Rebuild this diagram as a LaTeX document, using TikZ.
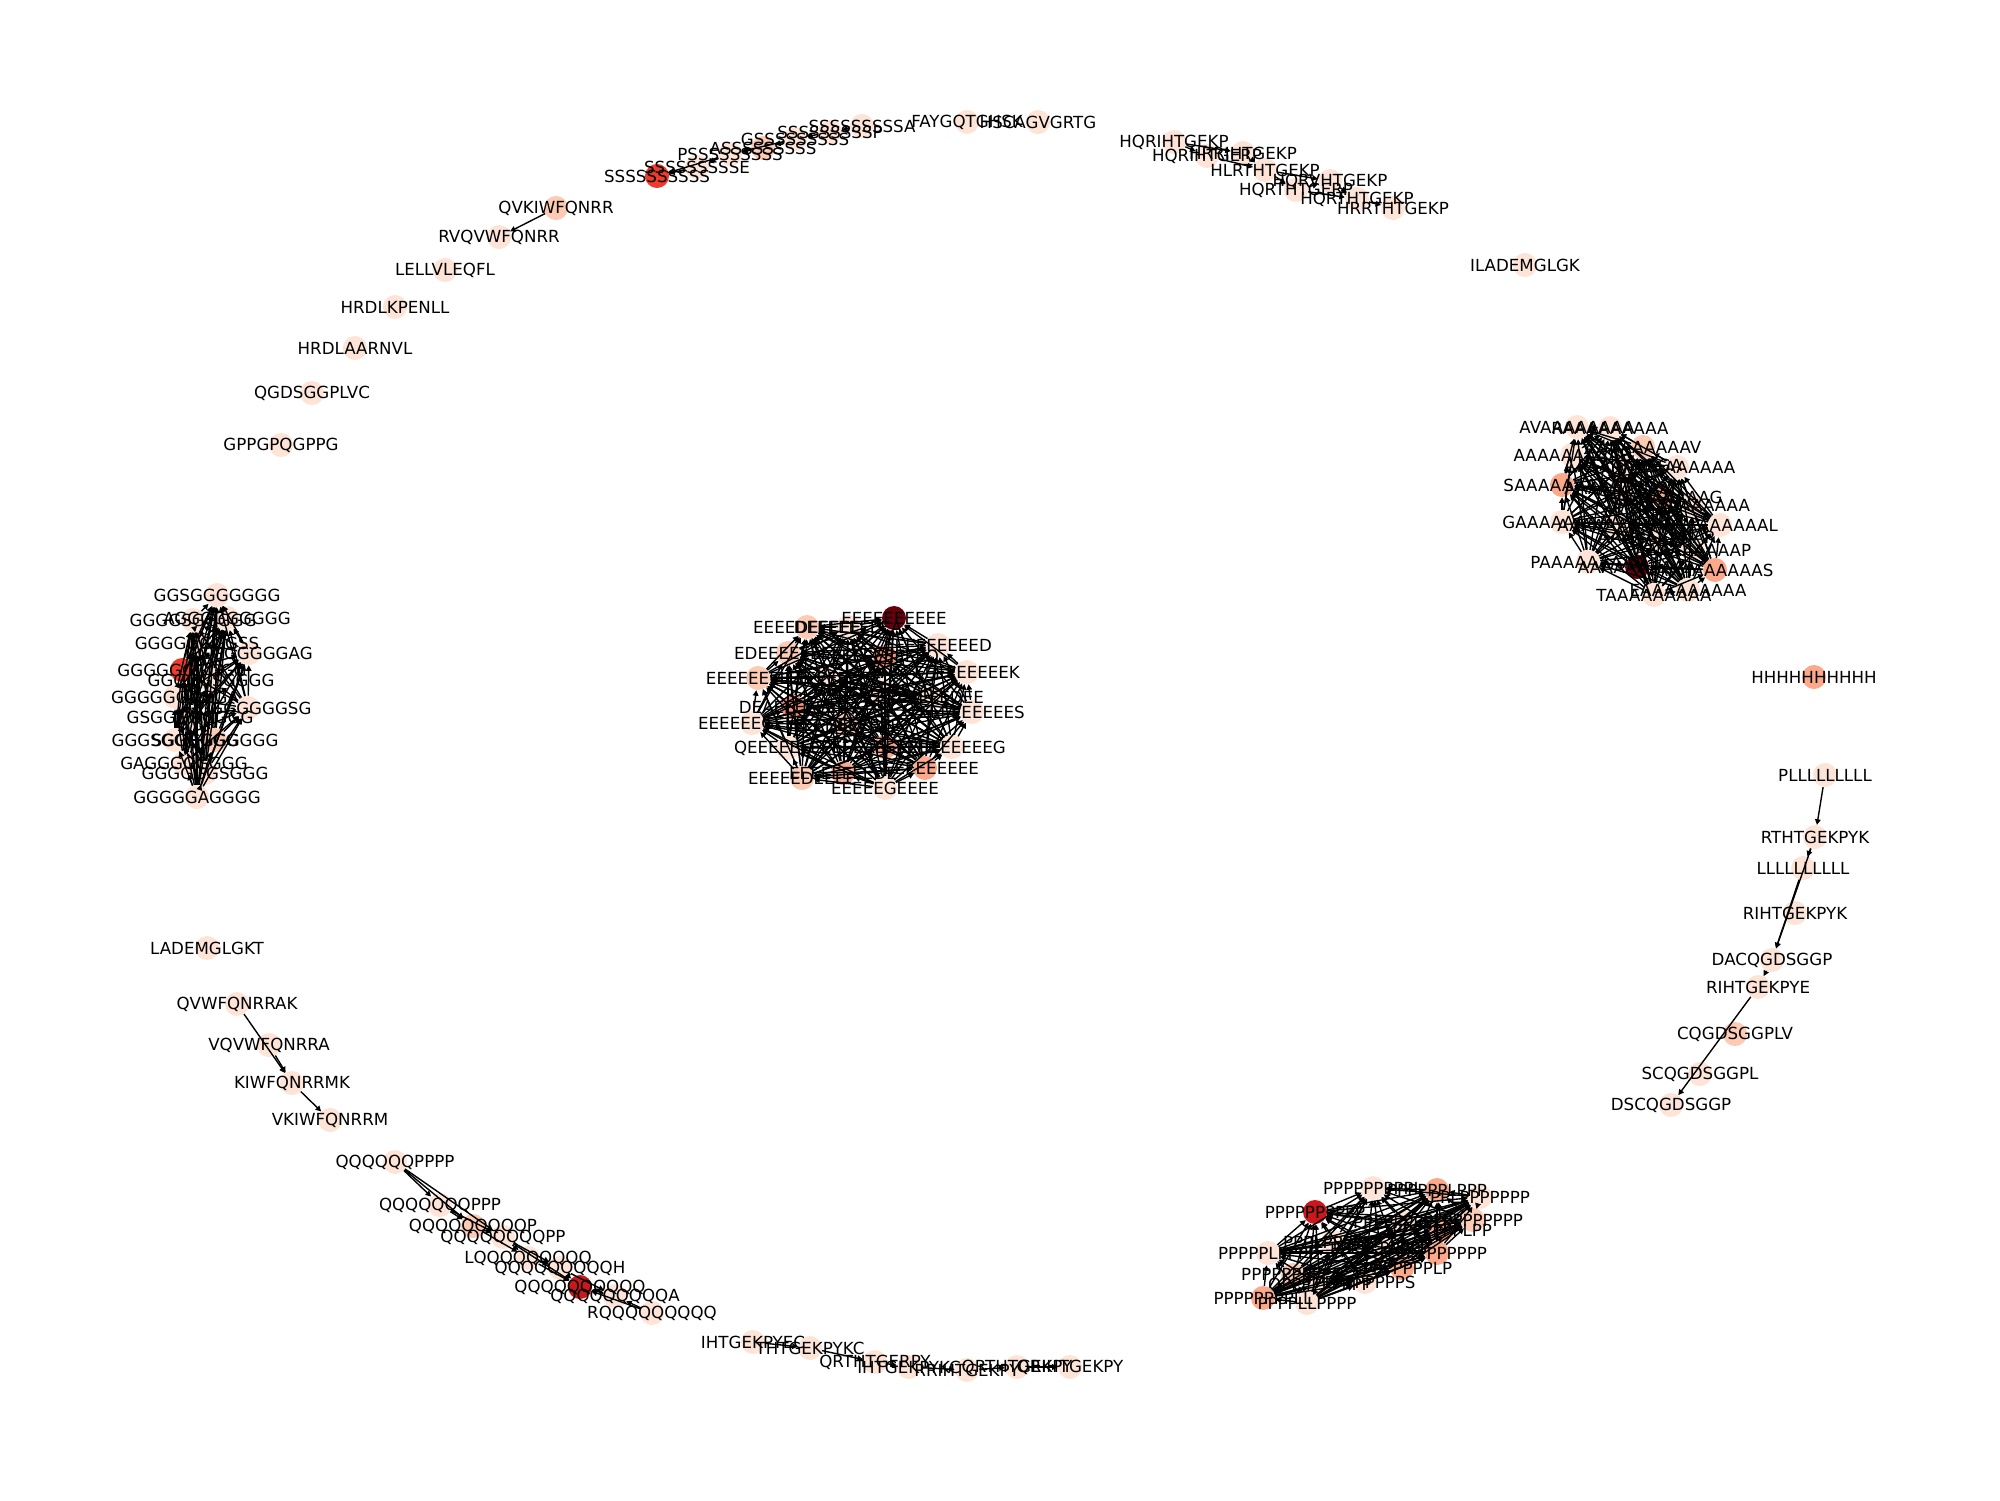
\documentclass[tikz,border=0pt]{standalone}
\usepackage{fontspec}
\setmainfont{DejaVu Sans}
\usetikzlibrary{arrows.meta}
\definecolor{cL}{HTML}{FEE4D7}
\definecolor{cM}{HTML}{FDCAB4}
\definecolor{cS}{HTML}{FCA88B}
\definecolor{cT}{HTML}{FC8E6E}
\definecolor{cR}{HTML}{EF3B2C}
\definecolor{cRR}{HTML}{CB181D}
\definecolor{cD}{HTML}{67000D}
\tikzset{
  vtx/.style={circle, inner sep=0pt, minimum size=17.3pt, draw=none},
  edg/.style={line width=1pt, black, -{Triangle[length=4pt,width=4pt]}},
  lbl/.style={inner sep=0pt, font=\fontsize{12pt}{14pt}\selectfont, text=black},
}
\newcommand\vx[4]{\node[vtx, fill=#4] (#1) at (#2,#3) {};}
\newcommand\vl[2]{\node[lbl] (#1-t) at (#1.center) {#2};}
\newcommand\ed[2]{\draw[edg] (#1) -- (#2);}
\newcommand\cliq[2]{%
  \pgfmathtruncatemacro\cliqm{#2-1}%
  \foreach \i in {1,...,\cliqm}{%
    \pgfmathtruncatemacro\cliqs{\i+1}%
    \foreach \j in {\cliqs,...,#2}{\draw[edg] (#1\j) -- (#1\i);}}}
\begin{document}
\begin{tikzpicture}[x=0.72pt,y=-0.72pt]
\fill[white] (0,0) rectangle (2000,1500);
\path[use as bounding box] (0,0) rectangle (2000,1500);
% ---------- vertices ----------
% S chain
\vx{S1}{657}{176}{cR}
\vx{S2}{697}{167}{cL}
\vx{S3}{730}{154}{cL}
\vx{S4}{763}{148}{cM}
\vx{S5}{795}{139}{cL}
\vx{S6}{830}{132}{cL}
\vx{S7}{862}{126}{cL}
\vx{F1}{967}{122}{cL}
\vx{F2}{1038}{122}{cL}
% HQ chain
\vx{H1}{1174}{142}{cL}
\vx{H2}{1207}{156}{cL}
\vx{H3}{1243}{153}{cL}
\vx{H4}{1265}{170}{cL}
\vx{H5}{1296}{190}{cL}
\vx{H6}{1330}{181}{cL}
\vx{H7}{1357}{199}{cL}
\vx{H8}{1393}{208}{cL}
\vx{IL}{1525}{265}{cL}
% left list
\vx{K1}{556}{208}{cM}
\vx{K2}{499}{237}{cL}
\vx{K3}{445}{270}{cL}
\vx{K4}{395}{307}{cL}
\vx{K5}{355}{348}{cL}
\vx{K6}{312}{393}{cL}
\vx{K7}{281}{445}{cL}
% G cluster
\vx{G1}{217}{595}{cL}
\vx{G2}{227}{618}{cL}
\vx{G3}{193}{620}{cL}
\vx{G4}{197}{643}{cL}
\vx{G5}{249}{653}{cL}
\vx{G6}{182}{670}{cR}
\vx{G7}{211}{680}{cL}
\vx{G8}{175}{697}{cL}
\vx{G9}{190}{717}{cL}
\vx{G10}{248}{708}{cL}
\vx{G11}{175}{740}{cL}
\vx{G12}{215}{740}{cM}
\vx{G13}{184}{763}{cL}
\vx{G14}{205}{773}{cL}
\vx{G15}{197}{797}{cL}
% E cluster
\vx{E1}{894}{618}{cD}
\vx{E2}{807}{627}{cM}
\vx{E3}{848}{627}{cL}
\vx{E4}{788}{653}{cM}
\vx{E5}{938}{645}{cL}
\vx{E6}{885}{657}{cT}
\vx{E7}{967}{672}{cL}
\vx{E8}{758}{678}{cM}
\vx{E9}{828}{678}{cL}
\vx{E10}{880}{690}{cL}
\vx{E11}{930}{697}{cL}
\vx{E12}{793}{707}{cT}
\vx{E13}{972}{712}{cL}
\vx{E14}{752}{723}{cL}
\vx{E15}{847}{725}{cM}
\vx{E16}{788}{748}{cL}
\vx{E17}{885}{747}{cS}
\vx{E18}{952}{747}{cL}
\vx{E19}{925}{768}{cS}
\vx{E20}{802}{778}{cM}
\vx{E21}{843}{773}{cS}
\vx{E22}{885}{788}{cL}
% A cluster
\vx{A1}{1577}{427}{cL}
\vx{A2}{1610}{428}{cL}
\vx{A3}{1643}{447}{cM}
\vx{A4}{1572}{455}{cL}
\vx{A5}{1623}{465}{cL}
\vx{A6}{1677}{467}{cL}
\vx{A7}{1562}{485}{cS}
\vx{A8}{1623}{488}{cL}
\vx{A9}{1663}{497}{cS}
\vx{A10}{1692}{505}{cL}
\vx{A11}{1562}{522}{cL}
\vx{A12}{1617}{525}{cL}
\vx{A13}{1720}{525}{cL}
\vx{A14}{1657}{537}{cL}
\vx{A15}{1693}{550}{cL}
\vx{A16}{1588}{562}{cL}
\vx{A17}{1637}{567}{cD}
\vx{A18}{1715}{570}{cS}
\vx{A19}{1688}{590}{cL}
\vx{A20}{1654}{595}{cL}
\vx{HH}{1814}{677}{cS}
% right chain
\vx{R1}{1825}{775}{cL}
\vx{R2}{1815}{837}{cL}
\vx{R3}{1803}{868}{cL}
\vx{R4}{1795}{913}{cL}
\vx{R5}{1772}{960}{cL}
\vx{R6}{1758}{987}{cL}
\vx{R7}{1735}{1034}{cM}
\vx{R8}{1700}{1074}{cL}
\vx{R9}{1671}{1105}{cL}
% bottom-left
\vx{LD}{207}{948}{cL}
\vx{L1}{237}{1004}{cL}
\vx{L2}{269}{1045}{cL}
\vx{L3}{292}{1083}{cL}
\vx{L4}{330}{1120}{cL}
% Q chain
\vx{Q1}{395}{1162}{cL}
\vx{Q2}{440}{1205}{cL}
\vx{Q3}{473}{1226}{cM}
\vx{Q4}{503}{1237}{cL}
\vx{Q5}{528}{1258}{cL}
\vx{Q6}{560}{1268}{cL}
\vx{Q7}{580}{1287}{cRR}
\vx{Q8}{615}{1296}{cL}
\vx{Q9}{652}{1313}{cL}
% bottom chain
\vx{B1}{753}{1342}{cL}
\vx{B2}{810}{1348}{cL}
\vx{B3}{875}{1362}{cL}
\vx{B4}{909}{1367}{cL}
\vx{B5}{967}{1370}{cL}
\vx{B6}{1017}{1367}{cL}
\vx{B7}{1070}{1367}{cL}
% P cluster
\vx{P1}{1373}{1188}{cL}
\vx{P2}{1437}{1190}{cS}
\vx{P3}{1480}{1197}{cL}
\vx{P4}{1315}{1212}{cRR}
\vx{P5}{1403}{1222}{cL}
\vx{P6}{1473}{1220}{cM}
\vx{P7}{1442}{1230}{cS}
\vx{P8}{1333}{1242}{cL}
\vx{P9}{1380}{1248}{cL}
\vx{P10}{1268}{1253}{cL}
\vx{P11}{1437}{1253}{cS}
\vx{P12}{1402}{1268}{cS}
\vx{P13}{1293}{1275}{cM}
\vx{P14}{1365}{1282}{cL}
\vx{P15}{1320}{1285}{cL}
\vx{P16}{1263}{1298}{cS}
\vx{P17}{1307}{1303}{cL}
% ---------- edges ----------
\ed{S2}{S1}\ed{S3}{S2}\ed{S4}{S3}\ed{S5}{S4}\ed{S6}{S5}\ed{S7}{S6}\ed{S3}{S1}\ed{S5}{S3}
\ed{H1}{H2}\ed{H1}{H3}\ed{H2}{H4}\ed{H3}{H4}\ed{H4}{H5}\ed{H4}{H6}\ed{H5}{H6}\ed{H6}{H7}\ed{H5}{H7}\ed{H7}{H8}
\ed{K1}{K2}
\cliq{G}{15}
\cliq{E}{22}
\cliq{A}{20}
\cliq{P}{17}
\ed{R1}{R2}\ed{R2}{R3}\ed{R2}{R5}\ed{R3}{R5}\ed{R5}{R6}\ed{R6}{R9}
\ed{L1}{L3}\ed{L2}{L3}\ed{L3}{L4}
\ed{Q1}{Q2}\ed{Q1}{Q3}\ed{Q1}{Q4}\ed{Q2}{Q3}\ed{Q2}{Q4}\ed{Q3}{Q4}\ed{Q3}{Q5}\ed{Q4}{Q5}\ed{Q4}{Q6}
\ed{Q5}{Q6}\ed{Q5}{Q7}\ed{Q6}{Q7}\ed{Q4}{Q7}\ed{Q8}{Q7}\ed{Q9}{Q7}\ed{Q9}{Q8}\ed{Q6}{Q8}
\ed{B1}{B2}\ed{B2}{B3}\ed{B3}{B4}\ed{B4}{B5}\ed{B5}{B6}\ed{B6}{B7}
% ---------- labels ----------
\vl{S1}{SSSSSSSSSS}\vl{S2}{SSSSSSSSSE}\vl{S3}{PSSSSSSSSS}\vl{S4}{ASSSSSSSSS}
\vl{S5}{GSSSSSSSSS}\vl{S6}{SSSSSSSSSP}\vl{S7}{SSSSSSSSSA}
\vl{F1}{FAYGQTGHSK}\vl{F2}{HSCAGVGRTG}
\vl{H1}{HQRIHTGEKP}\vl{H2}{HQRIHTGERP}\vl{H3}{HRRIHTGEKP}\vl{H4}{HLRTHTGEKP}
\vl{H5}{HQRTHTGERP}\vl{H6}{HQRVHTGEKP}\vl{H7}{HQRTHTGEKP}\vl{H8}{HRRTHTGEKP}
\vl{IL}{ILADEMGLGK}
\vl{K1}{QVKIWFQNRR}\vl{K2}{RVQVWFQNRR}\vl{K3}{LELLVLEQFL}\vl{K4}{HRDLKPENLL}
\vl{K5}{HRDLAARNVL}\vl{K6}{QGDSGGPLVC}\vl{K7}{GPPGPQGPPG}
\vl{G1}{GGSGGGGGGG}\vl{G2}{AGGGGGGGGG}\vl{G3}{GGGGSGGGGG}\vl{G4}{GGGGGGGGSS}
\vl{G5}{GGGGGGGGAG}\vl{G6}{GGGGGGGGGG}\vl{G7}{GGGGGSGGGG}\vl{G8}{GGGGGGGGGA}
\vl{G9}{GSGGGGGGGG}\vl{G10}{GGGGGGGGSG}\vl{G11}{GGGSGGGGGG}\vl{G12}{SGGGGGGGGG}
\vl{G13}{GAGGGGGGGG}\vl{G14}{GGGGGGSGGG}\vl{G15}{GGGGGAGGGG}
\vl{E1}{EEEEEEEEEE}\vl{E2}{EEEEDEEEEE}\vl{E3}{DEEEEEEEEA}\vl{E4}{EDEEEEEEEE}
\vl{E5}{EEEEEEEEED}\vl{E6}{EEEEEEEEEQ}\vl{E7}{EEEEEEEEEK}\vl{E8}{EEEEEEELEE}
\vl{E9}{EEEEEEEEGE}\vl{E10}{EEEEEEEEAE}\vl{E11}{EEEEEEEDEE}\vl{E12}{DEAEEEEEEE}
\vl{E13}{EEEEEEEEES}\vl{E14}{EEEEEEGEEE}\vl{E15}{EEEDEEEEEE}\vl{E16}{QEEEEEEEEE}
\vl{E17}{EEEAEEEEEE}\vl{E18}{EEEEEEEEEG}\vl{E19}{GEEEEEEEEE}\vl{E20}{EEEEEDEEEE}
\vl{E21}{EEEEEEEEDE}\vl{E22}{EEEEEGEEEE}
\vl{A1}{AVAAAAAAAA}\vl{A2}{RAAAAAAAAA}\vl{A3}{AAAAAAAAAV}\vl{A4}{AAAAAAAAAE}
\vl{A5}{AAAAAAAAGA}\vl{A6}{VAAAAAAAAA}\vl{A7}{SAAAAAAAAA}\vl{A8}{AAAAAAAAAK}
\vl{A9}{AAAAAAAAAG}\vl{A10}{LAAAAAAAAA}\vl{A11}{GAAAAAAAAA}\vl{A12}{AAAAAAAAAD}
\vl{A13}{AAAAAAAAAL}\vl{A14}{AAAAAAAAAR}\vl{A15}{AAAAAAAAAP}\vl{A16}{PAAAAAAAAA}
\vl{A17}{AAAAAAAAAA}\vl{A18}{AAAAAAAAAS}\vl{A19}{EAAAAAAAAA}\vl{A20}{TAAAAAAAAA}
\vl{HH}{HHHHHHHHHH}
\vl{R1}{PLLLLLLLLL}\vl{R2}{RTHTGEKPYK}\vl{R3}{LLLLLLLLLL}\vl{R4}{RIHTGEKPYK}
\vl{R5}{DACQGDSGGP}\vl{R6}{RIHTGEKPYE}\vl{R7}{CQGDSGGPLV}\vl{R8}{SCQGDSGGPL}
\vl{R9}{DSCQGDSGGP}
\vl{LD}{LADEMGLGKT}
\vl{L1}{QVWFQNRRAK}\vl{L2}{VQVWFQNRRA}\vl{L3}{KIWFQNRRMK}\vl{L4}{VKIWFQNRRM}
\vl{Q1}{QQQQQQPPPP}\vl{Q2}{QQQQQQQPPP}\vl{Q3}{QQQQQQQQQP}\vl{Q4}{QQQQQQQQPP}
\vl{Q5}{LQQQQQQQQQ}\vl{Q6}{QQQQQQQQQH}\vl{Q7}{QQQQQQQQQQ}\vl{Q8}{QQQQQQQQQA}
\vl{Q9}{RQQQQQQQQQ}
\vl{B1}{IHTGEKPYEC}\vl{B2}{THTGEKPYKC}\vl{B3}{QRTHTGERPY}\vl{B4}{IHTGEKPYKC}
\vl{B5}{RRIHTGEKPY}\vl{B6}{QRTHTGEKPY}\vl{B7}{QRIHTGEKPY}
\vl{P1}{PPPPPPPPPL}\vl{P2}{PPPPPPLPPP}\vl{P3}{PPLPPPPPPP}\vl{P4}{PPPPPPPPPP}
\vl{P5}{PPPPPPPPLP}\vl{P6}{PLPPPPPPPP}\vl{P7}{PPPPPPPLPP}\vl{P8}{PPPLPPPPPP}
\vl{P9}{PPPPLPPPPP}\vl{P10}{PPPPPLPPPP}\vl{P11}{LPPPPPPPPP}\vl{P12}{SPPPPPPPLP}
\vl{P13}{PPPPPPPPPQ}\vl{P14}{PPPPPPPPPS}\vl{P15}{QPPPPPPPPP}\vl{P16}{PPPPPPPPLL}
\vl{P17}{PPPPLLPPPP}
\end{tikzpicture}
\end{document}
